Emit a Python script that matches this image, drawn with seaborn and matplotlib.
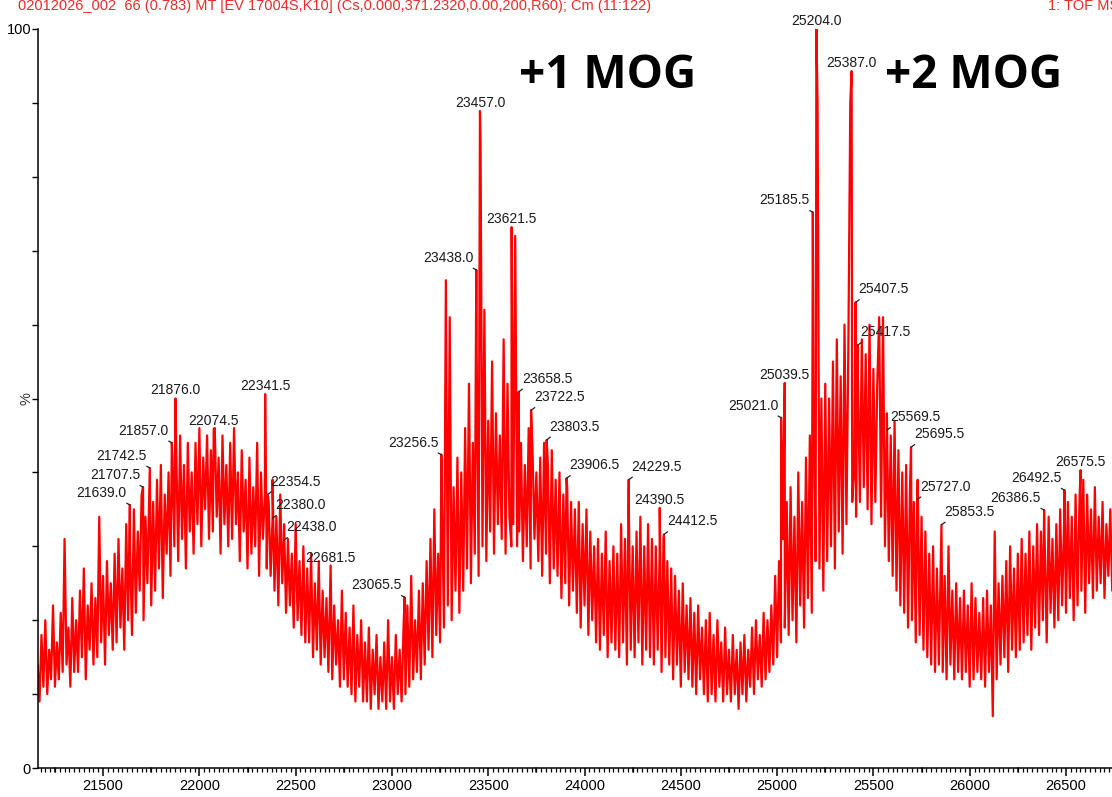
import numpy as np
import pandas as pd
import matplotlib
matplotlib.use("Agg")
import matplotlib.pyplot as plt
import seaborn as sns

# ---------------- data ----------------
# background trace, sampled every 10 Da starting at 21160 Da (values in % read from picture)
mass_start = 21160
mass_step = 10
background = [
    14, 9, 18, 11, 20, 10, 16, 12, 22, 11,      # 21160
    17, 12, 21, 13, 31, 14, 19, 11, 23, 13,     # 21260
    20, 13, 24, 15, 27, 12, 22, 16, 25, 14,     # 21360
    23, 15, 34, 17, 26, 14, 28, 18, 25, 16,     # 21460
    29, 17, 31, 19, 27, 16, 33, 20, 30, 18,     # 21560
    35, 21, 32, 24, 37, 20, 34, 25, 38, 22,     # 21660
    36, 24, 39, 27, 41, 23, 37, 29, 40, 26,     # 21760
    42, 30, 43, 28, 45, 31, 41, 27, 44, 32,     # 21860
    40, 29, 44, 33, 46, 30, 42, 35, 45, 31,     # 21960
    43, 32, 46, 34, 42, 29, 45, 33, 41, 30,     # 22060
    44, 31, 46, 33, 40, 28, 43, 32, 39, 27,     # 22160
    42, 29, 38, 30, 44, 26, 40, 31, 37, 27,     # 22260
    36, 26, 39, 24, 34, 22, 37, 25, 33, 21,     # 22360
    31, 22, 29, 19, 33, 20, 28, 18, 30, 17,     # 22460
    27, 17, 29, 15, 25, 16, 28, 14, 24, 15,     # 22560
    23, 13, 26, 12, 22, 14, 20, 11, 24, 12,     # 22660
    21, 11, 19, 10, 22, 9, 18, 11, 20, 9,       # 22760
    17, 9, 19, 8, 16, 10, 18, 8, 15, 9,         # 22860
    17, 8, 20, 9, 15, 8, 18, 10, 16, 9,         # 22960
    19, 10, 22, 11, 26, 12, 20, 13, 24, 12,     # 23060
    25, 14, 28, 16, 31, 15, 35, 18, 29, 17,     # 23160
    36, 19, 66, 22, 61, 20, 38, 24, 42, 21,     # 23260
    40, 24, 46, 27, 52, 25, 44, 29, 56, 26,     # 23360
    85, 30, 62, 28, 47, 32, 55, 29, 48, 33,     # 23460
    45, 31, 58, 29, 52, 34, 30, 33, 72, 30,     # 23560
    32, 44, 28, 41, 30, 46, 27, 43, 31, 40,     # 23660
    28, 42, 26, 44, 29, 41, 25, 43, 27, 39,     # 23760
    26, 40, 23, 37, 25, 38, 22, 36, 24, 35,     # 23860
    21, 36, 19, 33, 22, 35, 18, 32, 20, 30,     # 23960
    17, 31, 16, 29, 18, 32, 15, 28, 17, 30,     # 24060
    16, 29, 15, 33, 17, 31, 14, 35, 16, 30,     # 24160
    15, 32, 17, 34, 14, 30, 16, 33, 15, 31,     # 24260
    14, 30, 16, 29, 13, 31, 15, 28, 14, 27,     # 24360
    12, 26, 14, 24, 11, 25, 13, 22, 12, 23,     # 24460
    11, 21, 10, 22, 12, 19, 10, 20, 9, 21,      # 24560
    10, 18, 9, 20, 11, 17, 9, 19, 10, 16,       # 24660
    9, 18, 10, 16, 8, 17, 10, 18, 9, 16,        # 24760
    11, 19, 10, 20, 12, 18, 11, 21, 12, 20,     # 24860
    13, 22, 14, 26, 15, 28, 17, 31, 19, 36,     # 24960
    18, 38, 20, 34, 17, 40, 22, 36, 19, 42,     # 25060
    23, 45, 21, 48, 28, 90, 27, 50, 24, 52,     # 25160
    28, 50, 30, 55, 27, 58, 32, 53, 29, 60,     # 25260
    33, 57, 90, 36, 40, 34, 52, 36, 58, 38,     # 25360
    56, 35, 60, 33, 54, 36, 52, 61, 34, 61,     # 25460
    30, 48, 28, 45, 26, 47, 24, 43, 22, 40,     # 25560
    21, 41, 19, 38, 20, 36, 17, 39, 18, 34,     # 25660
    16, 32, 15, 29, 14, 30, 13, 27, 14, 28,     # 25760
    13, 26, 12, 30, 14, 24, 12, 25, 13, 23,     # 25860
    12, 24, 13, 22, 11, 25, 12, 23, 13, 21,     # 25960
    12, 23, 11, 24, 13, 22, 7, 32, 12, 25,      # 26060
    14, 26, 15, 28, 13, 30, 16, 27, 15, 29,     # 26160
    16, 31, 17, 29, 18, 32, 16, 30, 19, 33,     # 26260
    18, 32, 20, 30, 17, 34, 21, 31, 19, 33,     # 26360
    20, 35, 22, 33, 21, 36, 23, 34, 20, 37,     # 26460
    22, 36, 24, 39, 21, 37, 25, 35, 23, 38,     # 26560
    24, 34, 25, 36, 23, 33, 26, 35, 24,         # 26660
]

# labelled peaks (mass, relative intensity %)
peak_mass = [21639.0, 21707.5, 21742.5, 21857.0, 21876.0, 22074.5, 22341.5,
             22354.5, 22380.0, 22438.0, 22681.5, 23065.5, 23256.5, 23438.0,
             23457.0, 23621.5, 23658.5, 23722.5, 23803.5, 23906.5, 24229.5,
             24390.5, 24412.5, 25021.0, 25039.5, 25185.5, 25204.0, 25387.0,
             25407.5, 25417.5, 25569.5, 25695.5, 25727.0, 25853.5, 26386.5,
             26492.5, 26575.5]
peak_int = [35.6, 38.0, 40.6, 44.0, 50.0, 45.9, 50.6,
            37.0, 33.8, 30.8, 27.4, 23.1, 42.4, 67.4,
            88.9, 73.2, 50.9, 48.4, 44.4, 39.2, 39.0,
            35.2, 31.6, 47.4, 52.1, 75.2, 100.0, 94.3,
            63.0, 57.2, 45.7, 43.4, 36.3, 32.9, 34.9,
            37.6, 40.3]

x_ticks = [21500, 22000, 22500, 23000, 23500, 24000, 24500, 25000, 25500, 26000, 26500]
annotations = ["+1 MOG", "+2 MOG"]
header_left = "02012026_002  66 (0.783) MT [EV 17004S,K10] (Cs,0.000,371.2320,0.00,200,R60); Cm (11:122)"
header_right = "1: TOF MS ES+"

# label placement (layout, not data): c = centred above, l = left with leader, r = right with leader
label_side = ["l", "l", "l", "l", "c", "c", "c",
              "r", "r", "r", "c", "l", "l", "l",
              "c", "c", "r", "r", "r", "r", "r",
              "c", "r", "l", "c", "l", "c", "c",
              "r", "r", "r", "r", "r", "r", "l",
              "l", "c"]

# ---------------- build table ----------------
bg_mass = mass_start + mass_step * np.arange(len(background))
df = pd.concat([
    pd.DataFrame({"mass": bg_mass, "intensity": background}),
    pd.DataFrame({"mass": peak_mass, "intensity": peak_int}),
]).sort_values("mass").reset_index(drop=True)

# ---------------- plot ----------------
sns.set_style("ticks")
plt.rcParams["font.family"] = ["Liberation Sans", "DejaVu Sans"]

W, H = 1112, 797
fig = plt.figure(figsize=(W / 100, H / 100), dpi=100)
ax = fig.add_axes([38 / W, (H - 768) / H, (W - 38) / W, (768 - 29) / H])

sns.lineplot(data=df, x="mass", y="intensity", estimator=None, sort=True,
             color="#ff0000", linewidth=1.6, ax=ax)

ax.set_xlim(21162, 26739)
ax.set_ylim(0, 100)
ax.set_xlabel("")
ax.set_ylabel("")
sns.despine(ax=ax, top=True, right=True)
for s in ("left", "bottom"):
    ax.spines[s].set_color("black")
    ax.spines[s].set_linewidth(1.1)
    ax.spines[s].set_zorder(5)

# x ticks: major every 500, medium at 250, minor every 25
ax.set_xticks(x_ticks)
ax.set_xticklabels([str(t) for t in x_ticks])
ax.set_xticks(np.arange(21175, 26740, 25), minor=True)
ax.tick_params(axis="x", which="major", direction="out", length=6, width=1.1,
               labelsize=10.5, pad=2, colors="black")
ax.tick_params(axis="x", which="minor", direction="out", length=3, width=0.9, colors="black")
for m in range(21250, 26740, 500):
    ax.plot([m, m], [0, -0.55], color="black", lw=1.1, clip_on=False,
            transform=ax.transData)

# y ticks
yt = list(range(0, 101, 10))
ax.set_yticks(yt)
ax.set_yticklabels(["0"] + [""] * 9 + ["100"])
ax.tick_params(axis="y", which="major", direction="out", length=4, width=1.0,
               labelsize=10.5, pad=1, colors="black")
ax.text(-0.004, 50, "%", transform=ax.get_yaxis_transform(), rotation=90,
        ha="right", va="center", fontsize=10.5, color="#333333")

# peak labels
for m, v, side in zip(peak_mass, peak_int, label_side):
    txt = f"{m:.1f}"
    if side == "c":
        ax.annotate(txt, xy=(m, v), xytext=(0, 4), textcoords="offset pixels",
                    ha="center", va="baseline", fontsize=10, color="#1a1a1a")
    elif side == "l":
        ax.annotate(txt, xy=(m, v), xytext=(-3, 8), textcoords="offset pixels",
                    ha="right", va="baseline", fontsize=10, color="#1a1a1a",
                    arrowprops=dict(arrowstyle="-", color="#222222", lw=0.9,
                                    shrinkA=0, shrinkB=0, relpos=(0.88, 0.0)))
    else:
        ax.annotate(txt, xy=(m, v), xytext=(3, 9), textcoords="offset pixels",
                    ha="left", va="baseline", fontsize=10, color="#1a1a1a",
                    arrowprops=dict(arrowstyle="-", color="#222222", lw=0.9,
                                    shrinkA=0, shrinkB=0, relpos=(0.1, 0.0)))

# big annotations
fig.text(608 / W, 1 - 75 / H, annotations[0], ha="center", va="center",
         fontsize=33, fontweight="bold", family="Open Sans", color="black")
fig.text(974 / W, 1 - 75 / H, annotations[1], ha="center", va="center",
         fontsize=33, fontweight="bold", family="Open Sans", color="black")

# header lines at the very top edge (as in the reference screenshot)
fig.text(18 / W, 1 - 10 / H, header_left, ha="left", va="baseline",
         fontsize=10.5, color="#ee2a2a")
fig.text(1048 / W, 1 - 10 / H, header_right, ha="left", va="baseline",
         fontsize=10.5, color="#ee2a2a")

fig.savefig("out.png", dpi=100)
